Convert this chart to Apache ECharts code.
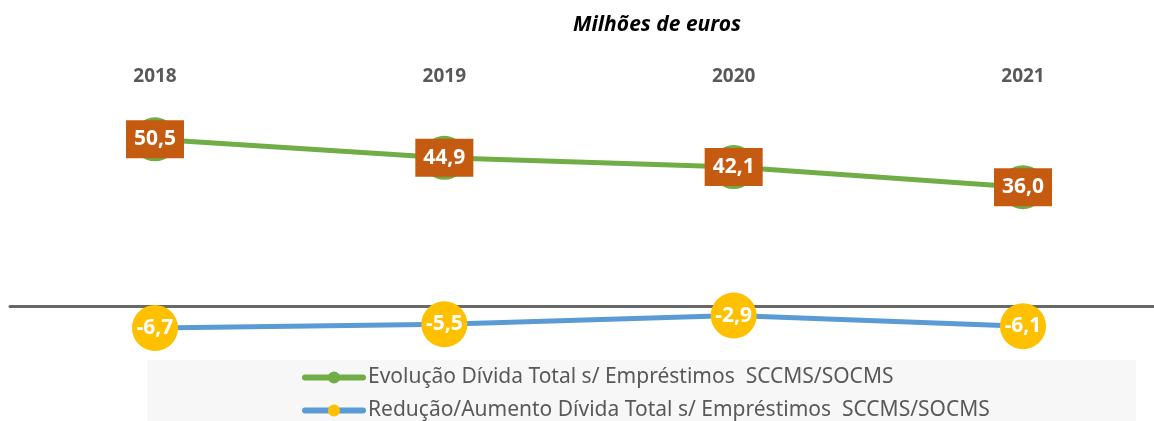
<!DOCTYPE html>
<html>
<head>
<meta charset="utf-8">
<style>
  html, body { margin: 0; padding: 0; background: #fff; }
  #chart { width: 1154px; height: 421px; }
</style>
<script src="https://cdn.jsdelivr.net/npm/echarts@6/dist/echarts.min.js"></script>
</head>
<body>
<div id="chart"></div>
<script>
  var years = ['2018', '2019', '2020', '2021']
  var dividaTotal = [50.5, 44.9, 42.1, 36.0]
  var variacao = [-6.7, -5.5, -2.9, -6.1]
  var seriesNames = [
    'Evolução Dívida Total s/ Empréstimos  SCCMS/SOCMS',
    'Redução/Aumento Dívida Total s/ Empréstimos  SCCMS/SOCMS'
  ]

  var font = 'Noto Sans'
  // valores com vírgula decimal
  function fmt(p) {
    return p.value.toFixed(1).replace('.', ',')
  }

  function legendRow(name, top) {
    return {
      data: [name],
      left: 297,
      top: top,
      itemWidth: 58,
      itemHeight: 15,
      lineStyle: { width: 6, cap: 'round' },
      textStyle: { fontFamily: font, fontSize: 21, color: '#595959' }
    }
  }

  var chart = echarts.init(document.getElementById('chart'))
  chart.setOption({
    animation: false,
    textStyle: { fontFamily: font },
    title: {
      text: 'Milhões de euros',
      left: 652,
      top: 10,
      textAlign: 'center',
      textStyle: {
        fontFamily: font,
        fontSize: 21,
        fontWeight: 'bold',
        fontStyle: 'italic',
        color: '#000'
      }
    },
    graphic: [{
      type: 'rect',
      shape: { x: 147, y: 360, width: 989, height: 70 },
      style: { fill: '#f7f7f7' },
      z: -1
    }],
    legend: [
      legendRow(seriesNames[0], 362),
      legendRow(seriesNames[1], 395)
    ],
    // grid 0: séries; grid 1: só a linha do zero em toda a largura
    grid: [
      { left: 155, right: 131, top: 108, height: 264 },
      { left: 10, right: 0, top: 108, height: 264 }
    ],
    xAxis: [{
      type: 'category',
      gridIndex: 0,
      data: years,
      boundaryGap: false,
      position: 'top',
      axisLine: { show: false },
      axisTick: { show: false },
      axisLabel: {
        margin: 22,
        fontFamily: font,
        fontSize: 19,
        fontWeight: 'bold',
        color: '#595959'
      }
    }, {
      type: 'category',
      gridIndex: 1,
      data: years,
      axisLine: { onZero: true, lineStyle: { color: '#686868', width: 3 } },
      axisTick: { show: false },
      axisLabel: { show: false }
    }],
    yAxis: [{
      type: 'value',
      gridIndex: 0,
      min: -20,
      max: 60,
      show: false,
      splitLine: { show: false }
    }, {
      type: 'value',
      gridIndex: 1,
      min: -20,
      max: 60,
      axisLine: { show: false },
      axisTick: { show: false },
      axisLabel: { show: false },
      splitLine: { show: false }
    }],
    series: [{
      name: seriesNames[0],
      type: 'line',
      data: dividaTotal,
      symbol: 'circle',
      symbolSize: 44,
      itemStyle: { color: '#70ad47' },
      lineStyle: { color: '#70ad47', width: 5 },
      label: {
        show: true,
        position: 'inside',
        formatter: fmt,
        fontFamily: font,
        fontSize: 21,
        fontWeight: 'bold',
        color: '#fff',
        backgroundColor: '#c55a11',
        padding: [9, 8, 8, 8]
      },
      z: 3
    }, {
      name: seriesNames[1],
      type: 'line',
      data: variacao,
      symbol: 'circle',
      symbolSize: 46,
      itemStyle: { color: '#ffc000' },
      lineStyle: { color: '#5b9bd5', width: 5 },
      label: {
        show: true,
        position: 'inside',
        formatter: fmt,
        fontFamily: font,
        fontSize: 21,
        fontWeight: 'bold',
        color: '#fff'
      },
      z: 4
    }]
  })
</script>
</body>
</html>
